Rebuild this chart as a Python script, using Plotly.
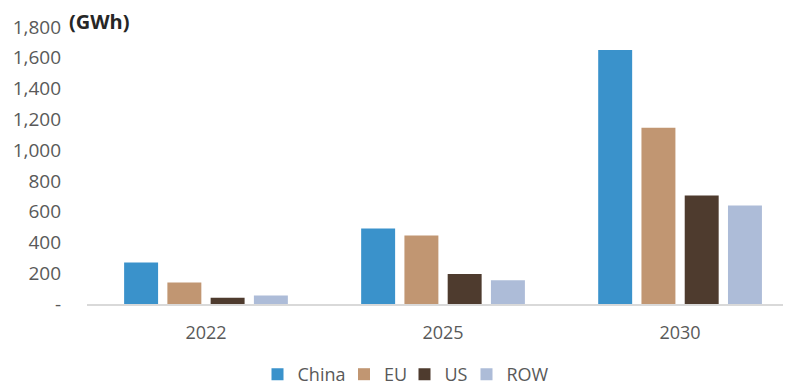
import plotly.graph_objects as go

years = ["2022", "2025", "2030"]
series_names = ["China", "EU", "US", "ROW"]
china = [270, 490, 1650]
eu = [140, 445, 1145]
us = [40, 195, 705]
row = [55, 155, 640]
y_tickvals = [0, 200, 400, 600, 800, 1000, 1200, 1400, 1600, 1800]
y_ticktext = ["-", "200", "400", "600", "800", "1,000", "1,200", "1,400", "1,600", "1,800"]
unit_label = "(GWh)"

colors = ["#3A92CB", "#C19672", "#4E3B2E", "#ADBCD8"]
values = [china, eu, us, row]

FONT = "Open Sans"
TEXT = "#595959"

W, H = 783, 379
ML, MT, MB = 79, 19, 83
PW, PH = W - ML, H - MT - MB

# legend symbol centres (px, figure coords) for each entry
legend_sym_x = [269, 355.5, 416, 478]
legend_ids = ["legend", "legend2", "legend3", "legend4"]

fig = go.Figure()
for name, vals, col, lid in zip(series_names, values, colors, legend_ids):
    fig.add_trace(go.Bar(x=years, y=vals, name=name, legend=lid,
                         marker=dict(color=col, line=dict(width=0))))

layout_legends = {}
for lid, sx in zip(legend_ids, legend_sym_x):
    layout_legends[lid] = dict(orientation="h", xref="container", x=(sx - 19.5) / W, xanchor="left",
                               yref="container", y=(H - 366.5) / H, yanchor="middle",
                               font=dict(size=18, color=TEXT), itemwidth=30,
                               bgcolor="rgba(0,0,0,0)")

fig.update_layout(
    width=W, height=H,
    margin=dict(l=ML, r=0, t=MT, b=MB),
    paper_bgcolor="white", plot_bgcolor="white",
    barmode="group", bargap=0.27, bargroupgap=0.215,
    font=dict(family=FONT, size=18, color=TEXT),
    showlegend=True,
    xaxis=dict(range=[-0.502, 2.468], showgrid=False, showline=True, linecolor="#D9D9D9",
               linewidth=2, ticks="", ticklabelstandoff=11, tickfont=dict(size=18, color=TEXT)),
    yaxis=dict(range=[0, 1800], tickvals=y_tickvals, ticktext=y_ticktext, showgrid=False,
               showline=False, zeroline=False, ticks="", ticklabelstandoff=25,
               tickfont=dict(size=19, color=TEXT)),
    **layout_legends,
)

fig.add_annotation(text="<b>" + unit_label + "</b>", xref="paper", yref="paper",
                   x=(59 - ML) / PW, y=(H - MB - 14) / PH, xanchor="left", yanchor="middle",
                   showarrow=False, font=dict(family=FONT, size=20, color="#262626"))

fig.write_html("out.html")
